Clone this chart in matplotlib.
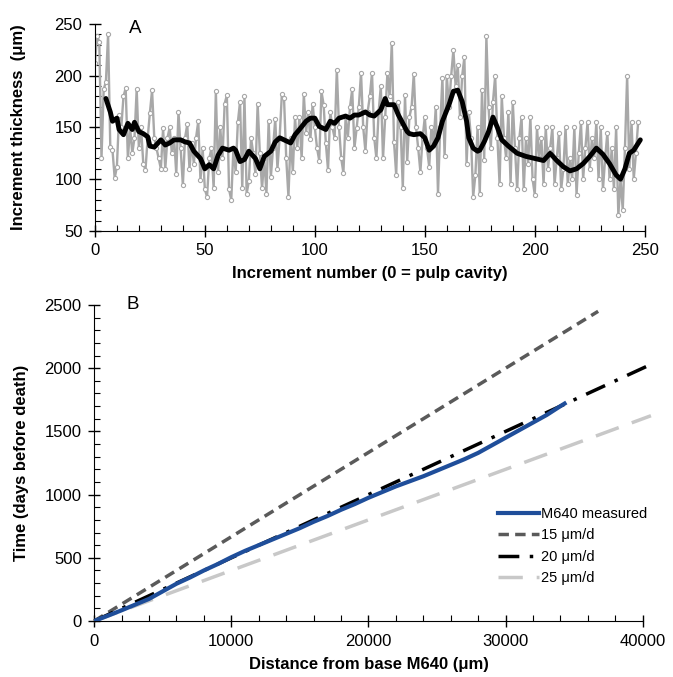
import matplotlib
matplotlib.use("Agg")
import matplotlib.pyplot as plt
from matplotlib.ticker import MultipleLocator

plt.rcParams['font.family'] = ['Liberation Sans', 'DejaVu Sans']
plt.rcParams['font.size'] = 11

# Panel A: increment thickness (um), increment 0 = pulp cavity
thickness = [
    212, 238, 233, 120, 187, 194, 240, 131, 128, 101,
    112, 162, 150, 180, 188, 120, 150, 125, 140, 187,
    130, 150, 115, 109, 140, 164, 186, 140, 130, 120,
    110, 149, 110, 140, 150, 125, 140, 105, 165, 130,
    94, 140, 153, 110, 135, 115, 140, 156, 99, 130,
    90, 83, 120, 130, 91, 185, 107, 150, 120, 173,
    181, 90, 80, 130, 107, 155, 175, 91, 180, 86,
    98, 140, 125, 105, 173, 125, 91, 120, 86, 156,
    102, 130, 158, 110, 140, 182, 178, 120, 83, 140,
    107, 160, 130, 160, 120, 182, 145, 165, 139, 173,
    150, 130, 118, 185, 172, 135, 109, 165, 150, 140,
    206, 150, 120, 106, 160, 140, 170, 187, 130, 149,
    170, 203, 150, 127, 165, 180, 203, 140, 120, 165,
    190, 120, 160, 203, 180, 232, 136, 104, 175, 150,
    91, 181, 117, 160, 170, 202, 150, 130, 107, 140,
    160, 130, 112, 150, 135, 170, 86, 150, 198, 122,
    200, 170, 200, 225, 190, 210, 160, 200, 218, 115,
    165, 140, 83, 104, 150, 86, 186, 119, 238, 170,
    130, 175, 200, 140, 95, 180, 140, 120, 165, 95,
    175, 130, 90, 140, 160, 90, 140, 115, 160, 100,
    85, 150, 120, 140, 95, 150, 110, 130, 150, 95,
    120, 145, 90, 110, 150, 95, 120, 100, 150, 85,
    125, 155, 100, 130, 155, 110, 140, 120, 155, 100,
    150, 90, 120, 145, 100, 130, 90, 150, 65, 100,
    70, 130, 200, 110, 155, 100, 125, 155,
]
increment = list(range(len(thickness)))

# running mean (black line)
smooth_x = [5, 7, 8, 10, 11, 13, 15, 17, 18, 20, 22, 24, 25, 27, 30, 32, 34, 36, 39, 41,
            43, 45, 48, 50, 52, 54, 56, 58, 61, 63, 64, 66, 68, 70, 73, 75, 77, 80, 82, 84,
            86, 89, 91, 93, 96, 98, 100, 102, 105, 107, 109, 111, 114, 116, 118, 120, 123, 125, 127, 130,
            132, 133, 136, 138, 140, 142, 143, 145, 148, 150, 152, 154, 156, 158, 161, 163, 165, 167, 169, 170,
            172, 174, 175, 177, 179, 181, 183, 185, 188, 192, 196, 200, 204, 207, 210, 213, 216, 219, 222, 225,
            228, 231, 234, 237, 239, 241, 243, 245, 248]
smooth_y = [178, 165, 156, 159, 148, 143, 154, 148, 155, 146, 144, 141, 132, 131, 138, 133, 135, 138, 138, 136,
            135, 127, 120, 110, 114, 110, 123, 130, 128, 130, 128, 117, 119, 127, 120, 110, 122, 127, 136, 140,
            138, 135, 143, 148, 156, 159, 159, 151, 148, 156, 154, 159, 161, 159, 162, 162, 165, 162, 161, 167,
            178, 172, 172, 162, 154, 146, 144, 143, 144, 140, 128, 132, 140, 156, 172, 185, 186, 175, 156, 140,
            130, 127, 128, 136, 146, 160, 150, 138, 132, 125, 122, 120, 118, 125, 118, 112, 108, 110, 115, 122,
            130, 124, 115, 104, 100, 110, 125, 128, 138]

# Panel B: measured time vs distance, plus constant-rate reference lines
dist_meas = [0, 1000, 2000, 3000, 4000, 5000, 6000, 7000, 8000, 9000, 10000, 11000, 12000, 13000,
             14000, 15000, 16000, 17000, 18000, 19000, 20000, 21000, 22000, 23000, 24000, 25000,
             26000, 27000, 28000, 29000, 30000, 31000, 32000, 33000, 34000, 34300]
time_meas = [0, 42, 85, 130, 175, 235, 295, 345, 400, 450, 505, 555, 600, 645,
             690, 735, 785, 830, 880, 925, 975, 1020, 1065, 1105, 1145, 1190,
             1235, 1280, 1330, 1390, 1450, 1510, 1570, 1630, 1700, 1720]
rates = [15, 20, 25]            # um per day
rate_end = [36750, 40600, 40600]  # distance where each reference line stops

fig = plt.figure(figsize=(6.73, 6.77), dpi=100)
axA = fig.add_axes([0.141, 0.659, 0.817, 0.3055])
axB = fig.add_axes([0.140, 0.0827, 0.815, 0.4668])

axA.plot(increment, thickness, color='#a8a8a8', lw=1.7, marker='o', ms=3,
         mfc='white', mec='#a8a8a8', mew=0.8, zorder=2)
axA.plot(smooth_x, smooth_y, color='black', lw=3.5, solid_capstyle='round', zorder=3)
axA.set_xlim(0, 250)
axA.set_ylim(50, 250)
axA.xaxis.set_major_locator(MultipleLocator(50))
axA.xaxis.set_minor_locator(MultipleLocator(10))
axA.yaxis.set_major_locator(MultipleLocator(50))
axA.yaxis.set_minor_locator(MultipleLocator(10))
axA.set_xlabel('Increment number (0 = pulp cavity)', fontweight='bold', fontsize=12)
axA.set_ylabel('Increment thickness  (μm)', fontweight='bold', fontsize=12)
axA.xaxis.set_label_coords(0.5, -0.169)
axA.yaxis.set_label_coords(-0.125, 0.5)
axA.text(0.073, 0.98, 'A', transform=axA.transAxes, fontsize=13.5, va='center', ha='center')

styles = [dict(color='#5a5a5a', ls=(0, (3, 1.8))),
          dict(color='black', ls=(0, (6, 3, 1, 3))),
          dict(color='#c8c8c8', ls=(0, (7, 4)))]
for r, xe, st in zip(rates, rate_end, styles):
    axB.plot([0, xe], [0, xe / r], lw=2.5, clip_on=False, label=f'{r} μm/d', zorder=2, **st)
meas, = axB.plot(dist_meas, time_meas, color='#1f4e9a', lw=3, zorder=3, label='M640 measured')
axB.set_xlim(0, 40000)
axB.set_ylim(0, 2500)
axB.xaxis.set_major_locator(MultipleLocator(10000))
axB.xaxis.set_minor_locator(MultipleLocator(2000))
axB.yaxis.set_major_locator(MultipleLocator(500))
axB.yaxis.set_minor_locator(MultipleLocator(100))
axB.set_xlabel('Distance from base M640 (μm)', fontweight='bold', fontsize=12)
axB.set_ylabel('Time (days before death)', fontweight='bold', fontsize=12)
axB.xaxis.set_label_coords(0.5, -0.114)
axB.yaxis.set_label_coords(-0.119, 0.5)
axB.text(0.07, 1.0, 'B', transform=axB.transAxes, fontsize=13.5, va='center', ha='center')
handles, labels = axB.get_legend_handles_labels()
order = [3, 0, 1, 2]
axB.legend([handles[i] for i in order], [labels[i] for i in order], loc='center left',
           bbox_to_anchor=(0.712, 0.237), frameon=False, handlelength=2.8, handletextpad=0.15,
           labelspacing=0.5, fontsize=10.5)

for ax in (axA, axB):
    ax.spines['top'].set_visible(False)
    ax.spines['right'].set_visible(False)
    ax.tick_params(which='major', direction='inout', length=8, width=1, labelsize=12, pad=5)
    ax.tick_params(which='minor', direction='in', length=4, width=0.8)

fig.savefig('out.png', dpi=100)
